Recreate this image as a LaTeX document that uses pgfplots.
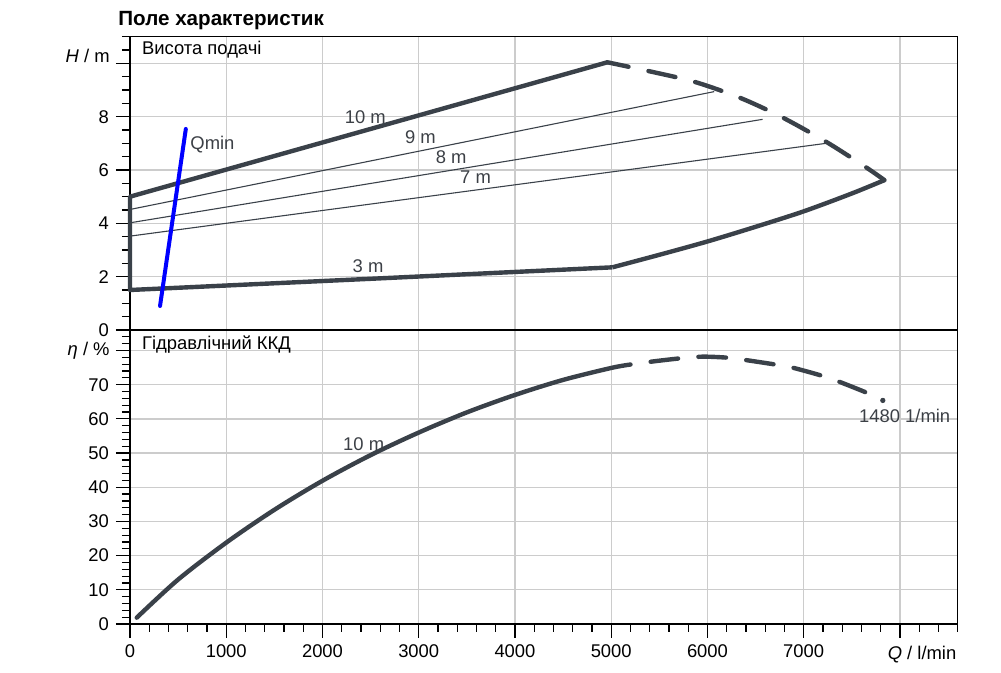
\documentclass[border=0pt]{standalone}
\usepackage{fontspec}
\setmainfont{Liberation Sans}
\usepackage{pgfplots}
\pgfplotsset{compat=1.18}
\definecolor{curve}{RGB}{58,65,73}
\definecolor{labc}{RGB}{60,64,70}
\definecolor{gridc}{RGB}{204,204,204}
\tikzset{lab/.style={labc, font=\fontsize{9.2}{10}\selectfont, inner sep=0pt}}
\pgfplotsset{
  common/.style={
    scale only axis, width=413.85pt,
    xmin=0, xmax=8600,
    xtick={0,1000,...,8000},
    grid=major,
    major grid style={gridc, line width=0.65pt},
    axis line style={black, line width=0.6pt},
    tick style={black, line width=0.6pt},
    tick align=outside,
    major tick length=7pt, minor tick length=4pt,
    ytick pos=left, xtick pos=bottom,
    tick label style={font=\fontsize{9.2}{10}\selectfont},
    /pgf/number format/assume math mode=true,
    /pgf/number format/1000 sep={},
    clip=false,
  },
  thickc/.style={curve, line width=2.2pt, line join=round},
  dashc/.style={curve, line width=2.2pt, line join=round, line cap=round, dash pattern=on 13.8pt off 10.2pt},
  thinc/.style={curve, line width=0.55pt},
}
\begin{document}
\begin{tikzpicture}
\path[use as bounding box] (-65pt,-24.5pt) rectangle (435.5pt,312pt);

% ---------- lower axis: efficiency ----------
\begin{axis}[common, at={(0pt,0pt)}, anchor=south west, height=147pt,
  ymin=0, ymax=86,
  ytick={0,10,...,80}, yticklabels={0,10,20,30,40,50,60,70,{}},
  minor ytick={2,4,...,86},
  minor xtick={200,400,...,8600},
  xticklabels={0,1000,2000,3000,4000,5000,6000,7000,{}},
]
\addplot[thickc, smooth, line cap=round] coordinates {
 (70,1.85) (500,13.0) (1000,23.8) (1500,33.4) (2000,41.9) (2500,49.4)
 (3000,56.0) (3500,61.9) (4000,67.0) (4500,71.4) (5000,74.9) (5200,75.9)};
\addplot[dashc, smooth, dash phase=13.8pt] coordinates {
 (5200,75.9) (5376,76.6) (5713,77.7) (5950,78.2) (6209,77.9) (6375,77.3)
 (6705,75.9) (6868,75.1) (7180,72.7) (7347,71.1) (7659,67.6) (7822,65.4)};
\addplot[only marks, mark=*, mark size=1.1pt, curve] coordinates {(7822,65.4)};
\node[lab] at (axis cs:2428,52.6) {10 m};
\node[lab, anchor=west] at (axis cs:7572,61.0) {1480 1/min};
\end{axis}

% ---------- upper axis: head ----------
\begin{axis}[common, at={(0pt,147pt)}, anchor=south west, height=146.65pt,
  ymin=0, ymax=11,
  ytick={0,2,...,10}, yticklabels={0,2,4,6,8,{}},
  minor ytick={0.5,1,...,11},
  xticklabels={}, xtick style={draw=none},
]
\addplot[thinc] coordinates {(0,4.52) (6070,8.94)};
\addplot[thinc] coordinates {(0,4.02) (6573,7.90)};
\addplot[thinc] coordinates {(0,3.52) (7232,7.00)};
\addplot[thickc] coordinates {
 (4960,10.04) (0,5.0) (0,1.5) (2500,1.92) (5012,2.35)};
\addplot[thickc, smooth] coordinates {
 (5012,2.35) (5500,2.82) (6000,3.32) (6500,3.87) (7000,4.45) (7500,5.12) (7839,5.62)};
\addplot[dashc, smooth, dash phase=3pt] coordinates {
 (4960,10.04) (5376,9.72) (5862,9.31) (6330,8.72) (6764,8.0)
 (7232,7.06) (7648,6.10) (7839,5.62)};
\addplot[blue, line width=2pt, line cap=round] coordinates {(312,0.9) (580,7.54)};
\node[lab] at (axis cs:2445,8.0) {10 m};
\node[lab] at (axis cs:3018,7.25) {9 m};
\node[lab] at (axis cs:3337,6.5) {8 m};
\node[lab] at (axis cs:3590,5.75) {7 m};
\node[lab] at (axis cs:2473,2.41) {3 m};
\node[lab, anchor=west] at (axis cs:624,6.94) {Qmin};
\end{axis}

% ---------- texts ----------
\node[anchor=base west, inner sep=0pt, font=\fontsize{10.3}{12}\selectfont\bfseries] at (-6pt,299.2pt) {Поле характеристик};
\node[anchor=base west, inner sep=0pt, font=\fontsize{9.2}{10}\selectfont] at (5.85pt,284.9pt) {Висота подачі};
\node[anchor=base west, inner sep=0pt, font=\fontsize{9.2}{10}\selectfont] at (5.85pt,137.3pt) {Гідравлічний ККД};
\node[anchor=base east, inner sep=0pt, font=\fontsize{9.2}{10}\selectfont] at (-10pt,280.9pt) {\textit{H} / m};
\node[anchor=base east, inner sep=0pt, font=\fontsize{9.2}{10}\selectfont] at (-10pt,134pt) {\textit{η} / \%};
\node[anchor=base east, inner sep=0pt, font=\fontsize{9.2}{10}\selectfont] at (413.35pt,-17.65pt) {\textit{Q} / l/min};
\end{tikzpicture}
\end{document}
